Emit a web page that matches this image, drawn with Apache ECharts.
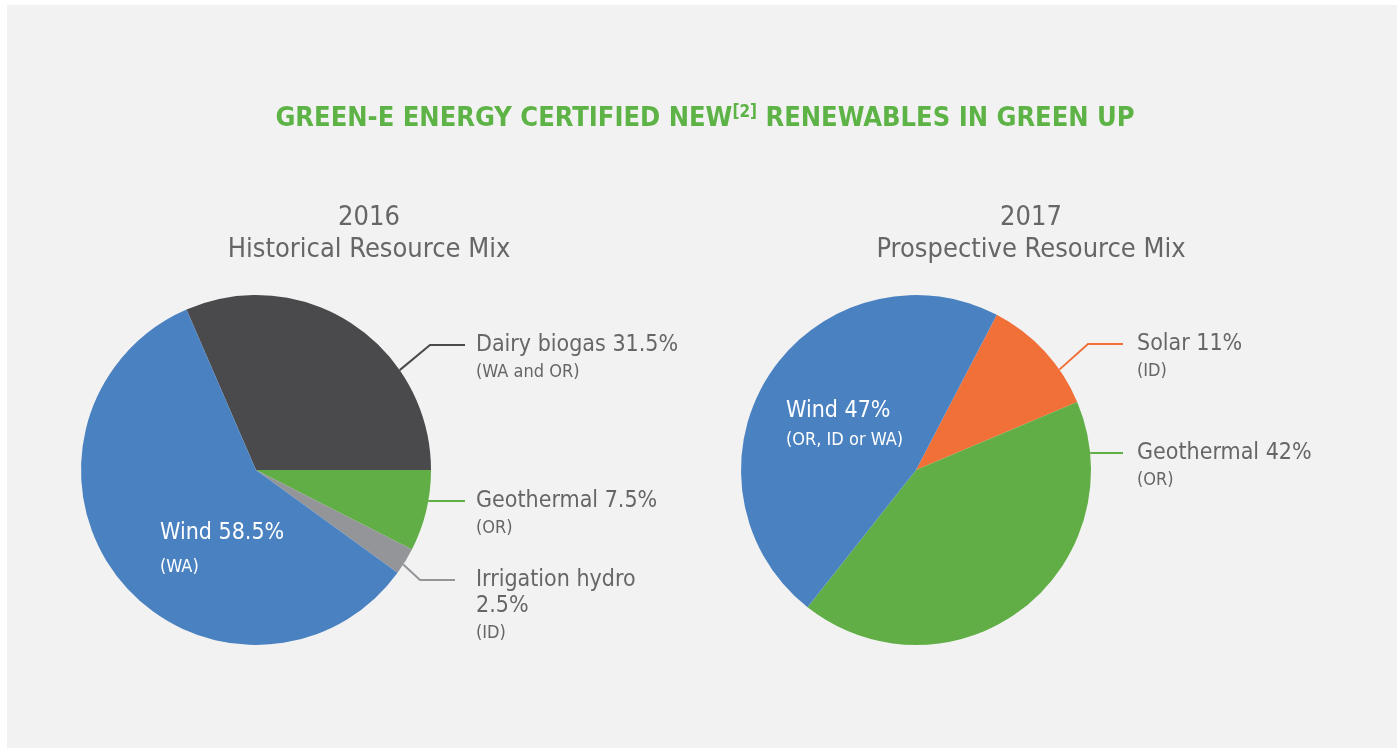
<!DOCTYPE html>
<html>
<head>
<meta charset="utf-8">
<script src="https://cdn.jsdelivr.net/npm/echarts@6/dist/echarts.min.js"></script>
<style>
  html, body { margin: 0; padding: 0; background: #ffffff; }
  #panel { position: absolute; left: 7px; top: 5px; right: 0; bottom: 0; background: #f2f2f2; }
  #chart { position: absolute; left: 0; top: 0; width: 1397px; height: 748px; }
</style>
</head>
<body>
<div id="panel"></div>
<div id="chart"></div>
<script>
// data
const years = ['2016', '2017'];
const subtitles = ['Historical Resource Mix', 'Prospective Resource Mix'];

const names2016 = ['Dairy biogas', 'Geothermal', 'Irrigation hydro', 'Wind'];
const values2016 = [31.5, 7.5, 2.5, 58.5];
const regions2016 = ['WA and OR', 'OR', 'ID', 'WA'];

const names2017 = ['Solar', 'Geothermal', 'Wind'];
const values2017 = [11, 42, 47];
const regions2017 = ['ID', 'OR', 'OR, ID or WA'];

const FONT = "'Liberation Sans Narrow', 'DejaVu Sans Condensed', Roboto, sans-serif";
const TEXT = '#666666';
const BLUE = '#4a81c1', DARK = '#4a4a4c', GREEN = '#62ae46', GREY = '#949598', ORANGE = '#f07038';

const colors2016 = [DARK, GREEN, GREY, BLUE];
const colors2017 = [ORANGE, GREEN, BLUE];

// label placement (label line anchors on the rim by angle, then elbow / end, text top-left)
const spots2016 = [
  { edge: 34.8, elbow: [430, 345], end: [465, 345], at: [476, 332] },
  { edge: -10.2, elbow: null, end: [465, 501], at: [476, 488] },
  { edge: -32.7, elbow: [420, 580], end: [455, 580], at: [476, 567], wrap: true },
  { inside: true, at: [160, 517] }
];
const spots2017 = [
  { edge: 35, elbow: [1088, 344], end: [1123, 344], at: [1137, 331] },
  { edge: 5.6, elbow: null, end: [1123, 453], at: [1137, 440] },
  { inside: true, at: [786, 397] }
];

const chart = echarts.init(document.getElementById('chart'));

function rim(center, r, deg) {
  const a = deg * Math.PI / 180;
  return [center[0] + r * Math.cos(a), center[1] - r * Math.sin(a)];
}

function makePie(names, values, regions, colors, spots, center, startAngle, windLh) {
  const radius = 175;
  return {
    type: 'pie',
    center: center,
    radius: radius,
    startAngle: startAngle,
    clockwise: true,
    animation: false,
    silent: true,
    emphasis: { disabled: true },
    data: names.map((n, i) => ({
      name: n,
      value: values[i],
      itemStyle: { color: colors[i] },
      labelLine: { show: !spots[i].inside, lineStyle: { color: colors[i], width: 2 } }
    })),
    label: {
      show: true,
      position: 'outside',
      overflow: 'none',
      fontFamily: FONT,
      formatter: p => {
        const s = spots[p.dataIndex];
        const head = p.name + (s.wrap ? '\n' : ' ') + p.value + '%';
        if (s.inside) return '{wname|' + head + '}\n{wsub|(' + regions[p.dataIndex] + ')}';
        return head.split('\n').map(t => '{name|' + t + '}').join('\n') + '\n{sub|(' + regions[p.dataIndex] + ')}';
      },
      rich: {
        name: { fontFamily: FONT, fontSize: 23, lineHeight: 26, color: TEXT },
        sub: { fontFamily: FONT, fontSize: 18, lineHeight: 28, color: TEXT },
        wname: { fontFamily: FONT, fontSize: 23, lineHeight: windLh[0], color: '#ffffff' },
        wsub: { fontFamily: FONT, fontSize: 18, lineHeight: windLh[1], color: '#ffffff' }
      }
    },
    labelLine: { show: true, smooth: false },
    labelLayout: params => {
      const s = spots[params.dataIndex];
      const out = { x: s.at[0], y: s.at[1], align: 'left', verticalAlign: 'top' };
      if (!s.inside) {
        const start = rim(center, radius, s.edge);
        out.labelLinePoints = [start, s.elbow || start, s.end];
      }
      return out;
    }
  };
}

const option = {
  backgroundColor: 'transparent',
  animation: false,
  title: [
    {
      text: 'GREEN-E ENERGY CERTIFIED NEW{sup|[2]} RENEWABLES IN GREEN UP',
      left: 700,
      top: 99,
      textAlign: 'center',
      textStyle: {
        fontFamily: FONT,
        fontSize: 27,
        fontWeight: 'bold',
        color: '#5db346',
        rich: {
          sup: { fontFamily: FONT, fontSize: 17, fontWeight: 'bold', color: '#5db346', verticalAlign: 'top', padding: [0, 0, 12, 0] }
        }
      }
    },
    {
      text: years[0] + '\n' + subtitles[0],
      left: 364,
      top: 197,
      textAlign: 'center',
      textStyle: { fontFamily: FONT, fontSize: 27, fontWeight: 'normal', lineHeight: 32, color: TEXT }
    },
    {
      text: years[1] + '\n' + subtitles[1],
      left: 1026,
      top: 197,
      textAlign: 'center',
      textStyle: { fontFamily: FONT, fontSize: 27, fontWeight: 'normal', lineHeight: 32, color: TEXT }
    }
  ],
  series: [
    makePie(names2016, values2016, regions2016, colors2016, spots2016, [256, 470], 113.4, [32, 36]),
    makePie(names2017, values2017, regions2017, colors2017, spots2017, [916, 470], 62.5, [28, 30])
  ]
};

chart.setOption(option);
</script>
</body>
</html>
